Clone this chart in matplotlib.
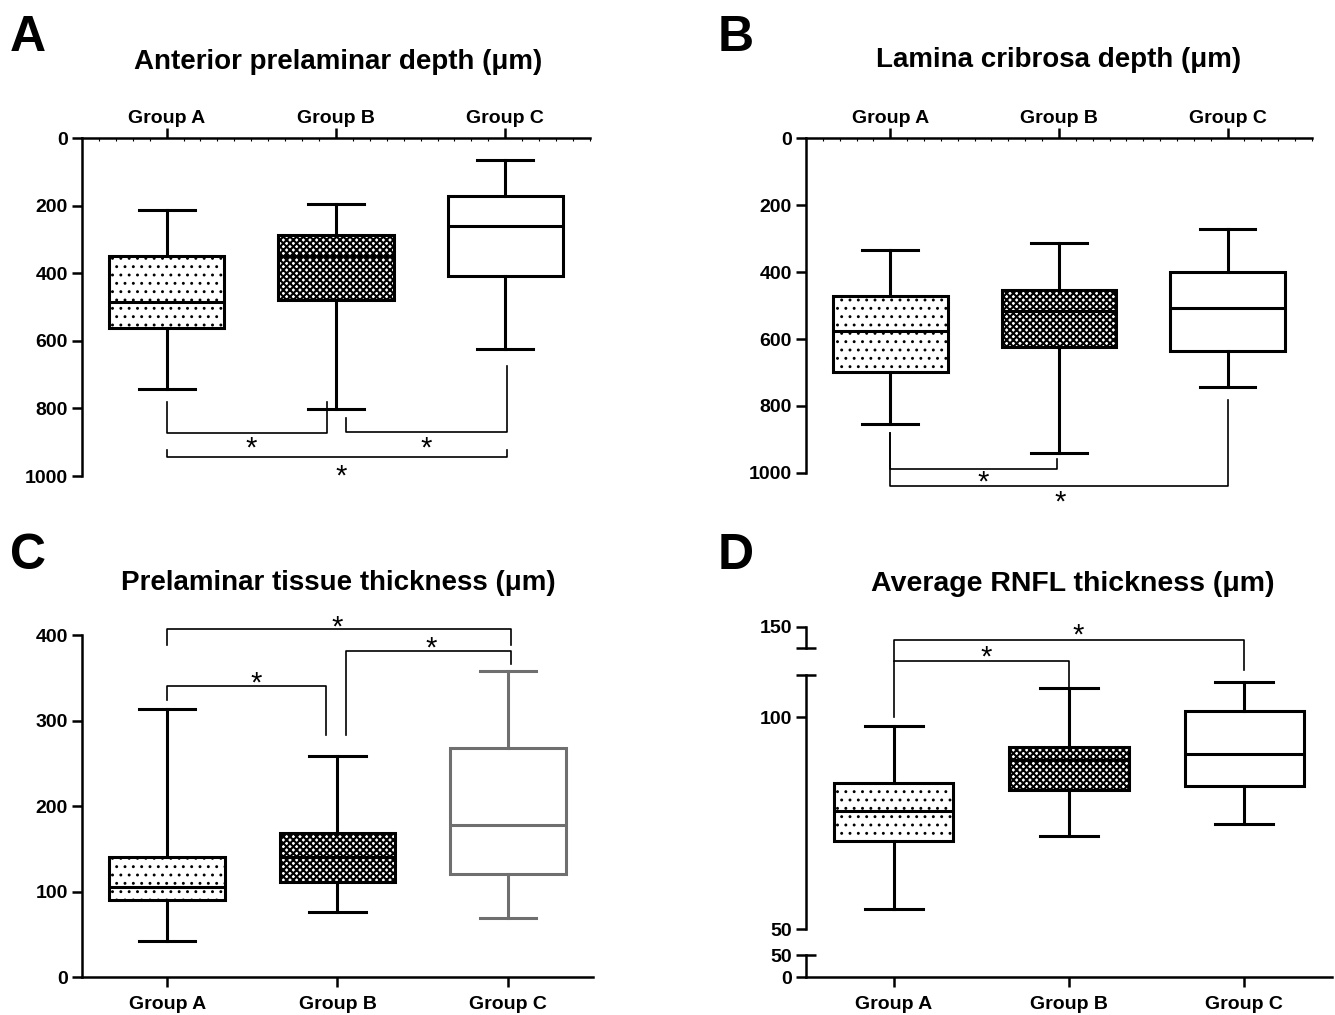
import matplotlib.pyplot as plt
from matplotlib.ticker import MultipleLocator
import numpy as np

plt.rcParams['font.family'] = ['Liberation Sans', 'DejaVu Sans']
plt.rcParams['font.weight'] = 'bold'
plt.rcParams['hatch.linewidth'] = 0.9

groups = ["Group A", "Group B", "Group C"]

# box statistics (whisker low, q1, median, q3, whisker high)
ant_lo = [213, 195, 65]
ant_q1 = [349, 287, 172]
ant_med = [485, 349, 260]
ant_q3 = [562, 479, 408]
ant_hi = [743, 802, 624]

lam_lo = [334, 313, 272]
lam_q1 = [472, 454, 400]
lam_med = [576, 516, 507]
lam_q3 = [699, 624, 636]
lam_hi = [854, 940, 743]

pre_lo = [42, 76, 69]
pre_q1 = [90, 111, 120]
pre_med = [105, 141, 178]
pre_q3 = [141, 168, 268]
pre_hi = [313, 258, 358]

rnfl_lo = [54.7, 71.9, 74.8]
rnfl_q1 = [70.8, 82.8, 83.7]
rnfl_med = [77.8, 89.9, 91.3]
rnfl_q3 = [84.4, 92.9, 101.4]
rnfl_hi = [97.9, 106.8, 108.3]

LW = 2.2
SPINE = 1.8
FS = 14


def draw_boxes(ax, lo, q1, med, q3, hi, colors=("black", "black", "black")):
    stats = []
    for i in range(3):
        stats.append(dict(whislo=lo[i], q1=q1[i], med=med[i], q3=q3[i],
                          whishi=hi[i], fliers=[]))
    bp = ax.bxp(stats, positions=[0, 1, 2], widths=0.68, capwidths=0.33,
                patch_artist=True, showfliers=False, manage_ticks=False,
                boxprops=dict(facecolor="white", linewidth=LW),
                whiskerprops=dict(linewidth=LW), capprops=dict(linewidth=LW),
                medianprops=dict(linewidth=LW))
    hatches = ["..", "xxxxx", ""]
    for i in range(3):
        c = colors[i]
        bp["boxes"][i].set_edgecolor(c)
        bp["boxes"][i].set_hatch(hatches[i])
        bp["medians"][i].set_color(c)
        for j in (2 * i, 2 * i + 1):
            bp["whiskers"][j].set_color(c)
            bp["caps"][j].set_color(c)
    if hasattr(bp["boxes"][1], "set_hatch_linewidth"):
        bp["boxes"][1].set_hatch_linewidth(1.5)


def bracket(ax, x1, x2, y1, ybar, y2, sx, sy):
    ax.plot([x1, x1, x2, x2], [y1, ybar, ybar, y2], color="black", lw=1.2,
            clip_on=False)
    ax.text(sx, sy, "*", ha="center", va="center", fontsize=21,
            fontweight="normal", clip_on=False)


def style_depth(ax, ymax):
    ax.set_xlim(-0.5, 2.5)
    ax.set_ylim(ymax, 0)
    ax.spines["bottom"].set_visible(False)
    ax.spines["right"].set_visible(False)
    ax.spines["left"].set_linewidth(SPINE)
    ax.spines["top"].set_linewidth(SPINE)
    ax.xaxis.tick_top()
    ax.set_xticks([0, 1, 2])
    ax.set_xticklabels(groups)
    ax.xaxis.set_minor_locator(MultipleLocator(0.1))
    ax.tick_params(axis="x", which="major", direction="out", length=7,
                   width=SPINE, labelsize=FS, pad=1)
    ax.tick_params(axis="x", which="minor", direction="in", length=2.5,
                   width=0.8, top=True, bottom=False)
    ax.set_yticks(np.arange(0, ymax + 1, 200))
    ax.tick_params(axis="y", length=7, width=SPINE, labelsize=FS, pad=3)


fig = plt.figure(figsize=(13.35, 10.15), dpi=100)

# Panel A
axA = fig.add_axes([0.0614, 0.5310, 0.3805, 0.3330])
draw_boxes(axA, ant_lo, ant_q1, ant_med, ant_q3, ant_hi)
style_depth(axA, 1000)
bracket(axA, 0, 0.95, 781, 873, 781, 0.5, 918)
bracket(axA, 1.06, 2.01, 828, 870, 675, 1.53, 918)
bracket(axA, 0, 2.01, 923, 944, 923, 1.03, 1003)

# Panel B
axB = fig.add_axes([0.6037, 0.5340, 0.3790, 0.3300])
draw_boxes(axB, lam_lo, lam_q1, lam_med, lam_q3, lam_hi)
style_depth(axB, 1000)
bracket(axB, 0, 0.99, 881, 988, 958, 0.55, 1030)
bracket(axB, 0, 2.0, 881, 1039, 782, 1.005, 1087)

# Panel C
axC = fig.add_axes([0.0614, 0.0374, 0.3828, 0.3369])
draw_boxes(axC, pre_lo, pre_q1, pre_med, pre_q3, pre_hi,
           colors=("black", "black", "#6f6f6f"))
axC.set_xlim(-0.5, 2.5)
axC.set_ylim(0, 400)
axC.spines["top"].set_visible(False)
axC.spines["right"].set_visible(False)
axC.spines["left"].set_linewidth(SPINE)
axC.spines["bottom"].set_linewidth(SPINE)
axC.set_xticks([0, 1, 2])
axC.set_xticklabels(groups)
axC.set_yticks([0, 100, 200, 300, 400])
axC.tick_params(length=7, width=SPINE, labelsize=FS, pad=3)
axC.tick_params(axis="x", pad=6.5)
bracket(axC, 0, 0.93, 324, 340, 283, 0.52, 343)
bracket(axC, 1.05, 2.02, 283, 381, 366, 1.55, 384)
bracket(axC, 0, 2.02, 388, 407, 388, 1.0, 409)

# Panel D (broken y axis)
axDt = fig.add_axes([0.6037, 0.3616, 0.3940, 0.0207])
axDm = fig.add_axes([0.6037, 0.0847, 0.3940, 0.2502])
axDb = fig.add_axes([0.6037, 0.0374, 0.3940, 0.02167])
draw_boxes(axDm, rnfl_lo, rnfl_q1, rnfl_med, rnfl_q3, rnfl_hi)
axDt.set_ylim(145, 150)
axDm.set_ylim(50, 109.9)
axDb.set_ylim(0, 50)
for ax in (axDt, axDm, axDb):
    ax.set_xlim(-0.5, 2.5)
    ax.patch.set_alpha(0)
    ax.spines["top"].set_visible(False)
    ax.spines["right"].set_visible(False)
    ax.spines["left"].set_linewidth(SPINE)
    ax.tick_params(axis="y", which="major", direction="out", length=7,
                   width=SPINE, labelsize=FS, pad=3)
    ax.tick_params(axis="y", which="minor", direction="inout", length=14,
                   width=SPINE, labelsize=FS, pad=3)
for ax in (axDt, axDm):
    ax.spines["bottom"].set_visible(False)
    ax.set_xticks([])
axDt.set_yticks([150])
axDt.set_yticks([145], minor=True)
axDt.set_yticklabels([""], minor=True)
axDm.set_yticks([50, 100])
axDm.set_yticks([109.9], minor=True)
axDm.set_yticklabels([""], minor=True)
axDb.set_yticks([0])
axDb.set_yticks([50], minor=True)
axDb.set_yticklabels(["50"], minor=True)
axDb.spines["bottom"].set_linewidth(SPINE)
axDb.set_xticks([0, 1, 2])
axDb.set_xticklabels(groups)
axDb.tick_params(axis="x", length=7, width=SPINE, labelsize=FS, pad=6.5)
bracket(axDm, 0, 1.0, 100, 113.2, 106.8, 0.53, 114.0)
bracket(axDm, 0, 2.0, 113.2, 118.2, 111.1, 1.05, 119.2)

# titles and panel letters
fig.text(338 / 1335, 1 - 62 / 1015, "Anterior prelaminar depth (μm)",
         ha="center", va="center", fontsize=20)
fig.text(1059 / 1335, 1 - 60 / 1015, "Lamina cribrosa depth (μm)",
         ha="center", va="center", fontsize=20)
fig.text(338 / 1335, 1 - 583 / 1015, "Prelaminar tissue thickness (μm)",
         ha="center", va="center", fontsize=20)
fig.text(1073 / 1335, 1 - 584 / 1015, "Average RNFL thickness (μm)",
         ha="center", va="center", fontsize=20.5)
for letter, x, y in (("A", 10, 15), ("B", 718, 15), ("C", 10, 533), ("D", 718, 533)):
    fig.text(x / 1335, 1 - y / 1015, letter, ha="left", va="top",
             fontsize=36)

fig.savefig("out.png", dpi=100)
